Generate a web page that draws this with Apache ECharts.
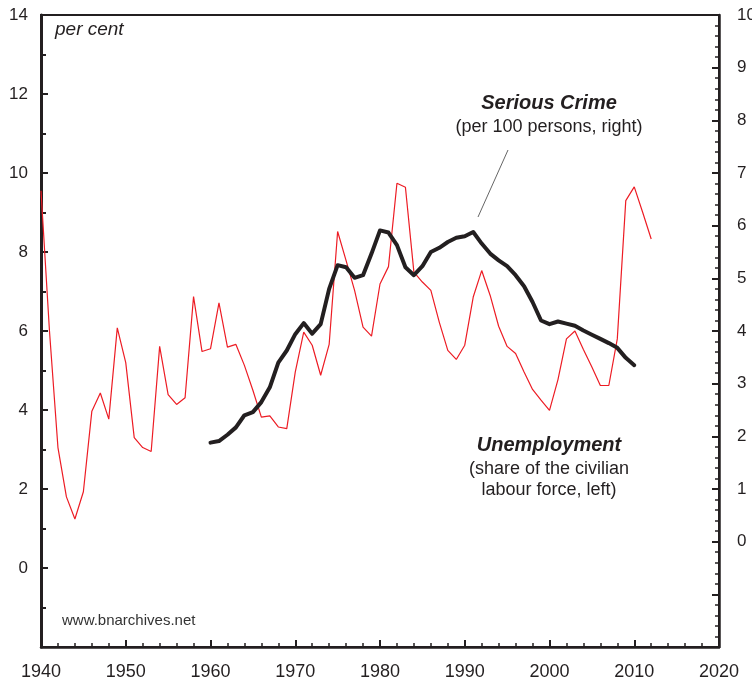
<!DOCTYPE html>
<html>
<head>
<meta charset="utf-8">
<script src="https://cdn.jsdelivr.net/npm/echarts@6/dist/echarts.min.js"></script>
<style>
  html, body { margin: 0; padding: 0; background: #fff; }
  #myChart { width: 752px; height: 685px; }
</style>
</head>
<body>
<div id="myChart"></div>
<script>
// unemployment, per cent of civilian labour force (left axis)
var unempYears = [1940, 1941, 1942, 1943, 1944, 1945, 1946, 1947, 1948, 1949,
  1950, 1951, 1952, 1953, 1954, 1955, 1956, 1957, 1958, 1959,
  1960, 1961, 1962, 1963, 1964, 1965, 1966, 1967, 1968, 1969,
  1970, 1971, 1972, 1973, 1974, 1975, 1976, 1977, 1978, 1979,
  1980, 1981, 1982, 1983, 1984, 1985, 1986, 1987, 1988, 1989,
  1990, 1991, 1992, 1993, 1994, 1995, 1996, 1997, 1998, 1999,
  2000, 2001, 2002, 2003, 2004, 2005, 2006, 2007, 2008, 2009,
  2010, 2011, 2012]
var unempValues = [9.55, 6.0, 3.05, 1.8, 1.24, 1.93, 3.97, 4.43, 3.77, 6.08,
  5.2, 3.3, 3.05, 2.95, 5.61, 4.39, 4.14, 4.31, 6.87, 5.48,
  5.55, 6.71, 5.59, 5.66, 5.13, 4.5, 3.82, 3.85, 3.57, 3.53,
  4.96, 5.97, 5.64, 4.88, 5.66, 8.52, 7.78, 7.03, 6.1, 5.87,
  7.19, 7.63, 9.74, 9.64, 7.49, 7.24, 7.03, 6.22, 5.51, 5.28,
  5.64, 6.86, 7.53, 6.9, 6.12, 5.61, 5.43, 4.96, 4.52, 4.25,
  3.99, 4.77, 5.8, 6.0, 5.53, 5.09, 4.62, 4.62, 5.8, 9.3,
  9.65, 9.0, 8.33]

// serious crime, per 100 persons (right axis)
var crimeYears = [1960, 1961, 1962, 1963, 1964, 1965, 1966, 1967, 1968, 1969,
  1970, 1971, 1972, 1973, 1974, 1975, 1976, 1977, 1978, 1979,
  1980, 1981, 1982, 1983, 1984, 1985, 1986, 1987, 1988, 1989,
  1990, 1991, 1992, 1993, 1994, 1995, 1996, 1997, 1998, 1999,
  2000, 2001, 2002, 2003, 2004, 2005, 2006, 2007, 2008, 2009,
  2010]
var crimeValues = [1.88, 1.91, 2.03, 2.17, 2.4, 2.46, 2.65, 2.93, 3.4, 3.63,
  3.94, 4.15, 3.95, 4.13, 4.8, 5.25, 5.21, 5.01, 5.06, 5.47,
  5.91, 5.87, 5.63, 5.21, 5.06, 5.23, 5.5, 5.58, 5.69, 5.77,
  5.8, 5.88, 5.66, 5.47, 5.34, 5.23, 5.06, 4.85, 4.55, 4.2,
  4.13, 4.18, 4.14, 4.1, 4.01, 3.93, 3.85, 3.77, 3.68, 3.49,
  3.35]

function pairs (xs, ys) {
  return xs.map(function (x, i) { return [x, ys[i]] })
}

var ink = '#231f20'
var font = 'Liberation Sans, Arial, sans-serif'

var myChart = echarts.init(document.getElementById('myChart'))
myChart.setOption({
  animation: false,
  backgroundColor: '#fff',
  textStyle: { fontFamily: font },
  grid: {
    left: 41,
    right: 33,
    top: 15,
    bottom: 38,
    outerBoundsMode: 'none',
    containLabel: false,
    show: true,
    borderColor: ink,
    borderWidth: 2
  },
  xAxis: {
    type: 'value',
    min: 1940,
    max: 2020,
    interval: 10,
    axisLine: { onZero: false, lineStyle: { color: ink, width: 2.5 } },
    axisTick: { inside: true, length: 7, lineStyle: { color: ink, width: 2 } },
    minorTick: { show: true, splitNumber: 5, length: 4, lineStyle: { color: ink, width: 1.5 } },
    axisLabel: {
      color: ink,
      fontSize: 18,
      margin: 16,
      fontFamily: font,
      formatter: function (v) { return String(v) }
    },
    splitLine: { show: false }
  },
  yAxis: [
    {
      type: 'value',
      min: -2,
      max: 14,
      interval: 2,
      position: 'left',
      axisLine: { show: true, lineStyle: { color: ink, width: 3 } },
      axisTick: { inside: true, length: 7, lineStyle: { color: ink, width: 2 } },
      minorTick: { show: true, splitNumber: 2, length: 5, lineStyle: { color: ink, width: 2 } },
      axisLabel: {
        color: ink,
        fontSize: 17,
        margin: 13,
        fontFamily: font,
        formatter: function (v) { return v < 0 ? '' : String(v) }
      },
      splitLine: { show: false }
    },
    {
      type: 'value',
      min: -2,
      max: 10,
      interval: 1,
      position: 'right',
      axisLine: { show: true, lineStyle: { color: ink, width: 2.5 } },
      axisTick: { inside: true, length: 7, lineStyle: { color: ink, width: 2 } },
      minorTick: { show: true, splitNumber: 5, length: 4, lineStyle: { color: ink, width: 1.5 } },
      axisLabel: {
        color: ink,
        fontSize: 17,
        margin: 18,
        fontFamily: font,
        formatter: function (v) { return v < 0 ? '' : String(v) }
      },
      splitLine: { show: false }
    }
  ],
  series: [
    {
      name: 'Unemployment',
      type: 'line',
      yAxisIndex: 0,
      data: pairs(unempYears, unempValues),
      showSymbol: false,
      lineStyle: { color: '#ed1c24', width: 1.2 },
      z: 2
    },
    {
      name: 'Serious Crime',
      type: 'line',
      yAxisIndex: 1,
      data: pairs(crimeYears, crimeValues),
      showSymbol: false,
      lineStyle: { color: ink, width: 4, join: 'round', cap: 'round' },
      z: 3
    }
  ],
  graphic: [
    {
      type: 'text', left: 55, top: 20,
      style: { text: 'per cent', font: 'italic 19px ' + font, fill: ink }
    },
    {
      type: 'text', x: 549, y: 93,
      style: { text: 'Serious Crime', font: 'italic bold 20px ' + font, fill: ink, textAlign: 'center' }
    },
    {
      type: 'text', x: 549, y: 118,
      style: { text: '(per 100 persons, right)', font: '18px ' + font, fill: ink, textAlign: 'center' }
    },
    {
      type: 'line',
      shape: { x1: 508, y1: 150, x2: 478, y2: 217 },
      style: { stroke: '#666', lineWidth: 1 }
    },
    {
      type: 'text', x: 549, y: 435,
      style: { text: 'Unemployment', font: 'italic bold 20px ' + font, fill: ink, textAlign: 'center' }
    },
    {
      type: 'text', x: 549, y: 459,
      style: { text: '(share of the civilian\nlabour force, left)', font: '18px ' + font, fill: ink, textAlign: 'center', lineHeight: 21 }
    },
    {
      type: 'text', x: 62, y: 613,
      style: { text: 'www.bnarchives.net', font: '15px ' + font, fill: '#333' }
    }
  ]
})
</script>
</body>
</html>
